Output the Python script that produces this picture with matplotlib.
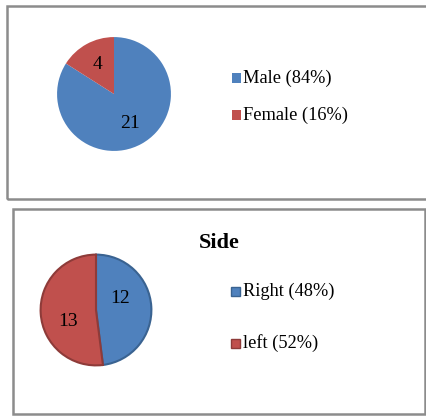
import matplotlib.pyplot as plt
from matplotlib.patches import Rectangle

plt.rcParams["font.family"] = ["Liberation Serif", "DejaVu Serif"]

W, H = 426, 416

# data
sex_labels = ["Male (84%)", "Female (16%)"]
sex_counts = [21, 4]
side_title = "Side"
side_labels = ["Right (48%)", "left (52%)"]
side_counts = [12, 13]

blue, red = "#4F81BD", "#C0504D"
blue_edge, red_edge = "#3A6391", "#8E3B39"


def fx(x):
    return x / W


def fy(y):
    return 1 - y / H


def pie_axes(fig, cx, cy, r):
    ax = fig.add_axes([fx(cx - r), fy(cy + r), 2 * r / W, 2 * r / H])
    return ax


def main():
    fig = plt.figure(figsize=(W / 100, H / 100), dpi=100)

    # panel frames
    fig.add_artist(Rectangle((fx(7), fy(199)), fx(440 - 7), fy(6) - fy(199),
                             transform=fig.transFigure, fill=False,
                             edgecolor="#8c8c8c", linewidth=1.8))
    fig.add_artist(Rectangle((fx(13), fy(414)), fx(425 - 13), fy(209) - fy(414),
                             transform=fig.transFigure, fill=False,
                             edgecolor="#8c8c8c", linewidth=1.8))

    # top pie
    ax = pie_axes(fig, 114, 94, 57.5)
    ax.pie(sex_counts, colors=[blue, red], startangle=90, counterclock=False,
           autopct=lambda p: f"{round(p * sum(sex_counts) / 100):d}",
           pctdistance=0.6, radius=1,
           textprops=dict(fontsize=14, color="black"))
    ax.set_xlim(-1.01, 1.01)
    ax.set_ylim(-1.01, 1.01)

    for i, (lab, col) in enumerate(zip(sex_labels, [blue, red])):
        y = 78 + i * 37
        fig.add_artist(Rectangle((fx(232), fy(y + 4.5)), 9 / W, 9 / H,
                                 transform=fig.transFigure, facecolor=col,
                                 edgecolor="none"))
        fig.text(fx(243), fy(y), lab, fontsize=13.2, va="center", ha="left")

    # bottom pie
    ax2 = pie_axes(fig, 96, 310, 56.5)
    wedges, texts, autotexts = ax2.pie(
        side_counts, colors=[blue, red], startangle=90, counterclock=False,
        autopct=lambda p: f"{round(p * sum(side_counts) / 100):d}",
        pctdistance=0.5, radius=1,
        wedgeprops=dict(linewidth=1.5),
        textprops=dict(fontsize=14, color="black"))
    for w, ec in zip(wedges, [blue_edge, red_edge]):
        w.set_edgecolor(ec)
    label_pos = [(0.43, 0.21), (-0.51, -0.21)]
    for t, pos in zip(autotexts, label_pos):
        t.set_position(pos)
    ax2.set_xlim(-1.02, 1.02)
    ax2.set_ylim(-1.02, 1.02)

    fig.text(fx(219), fy(243), side_title, fontsize=16, fontweight="bold",
             ha="center", va="center")

    for i, (lab, col, ec) in enumerate(zip(side_labels, [blue, red],
                                           [blue_edge, red_edge])):
        y = 291 + i * 52
        fig.add_artist(Rectangle((fx(231), fy(y + 4.5)), 9 / W, 9 / H,
                                 transform=fig.transFigure, facecolor=col,
                                 edgecolor=ec, linewidth=1))
        fig.text(fx(243), fy(y), lab, fontsize=13.2, va="center", ha="left")

    fig.savefig("out.png", dpi=100)


if __name__ == "__main__":
    main()
